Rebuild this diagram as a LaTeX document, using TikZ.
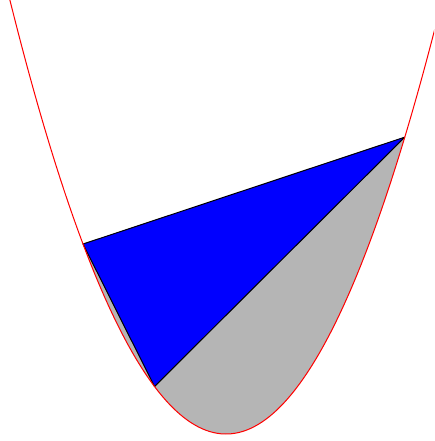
\documentclass[tikz,border=0pt]{standalone}
\usepackage{tikz}

\begin{document}
\begin{tikzpicture}[x=1cm, y=0.6643cm,
  curve/.style={red, line width=0.4pt},
  segment/.style={fill=black!29},
  tri/.style={draw=black, fill=blue, line width=0.4pt, line join=round}]

\useasboundingbox (-3.161,-0.147) rectangle (2.909,9.137);
\clip (-3.161,-0.147) rectangle (2.909,9.137);

% Punti sulla parabola
\coordinate (A) at (-2,4);
\coordinate (B) at (-1,1);
\coordinate (C) at (2.5,6.25);

% Segmento parabolico
\fill[segment] (A) -- plot[domain=-2:2.5, samples=80] (\x,{\x*\x}) -- cycle;

% Triangolo
\draw[tri] (A) -- (B) -- (C) -- cycle;

% Parabola
\draw[curve] plot[domain=-3.2:3, samples=120, smooth] (\x,{\x*\x});

\end{tikzpicture}
\end{document}
